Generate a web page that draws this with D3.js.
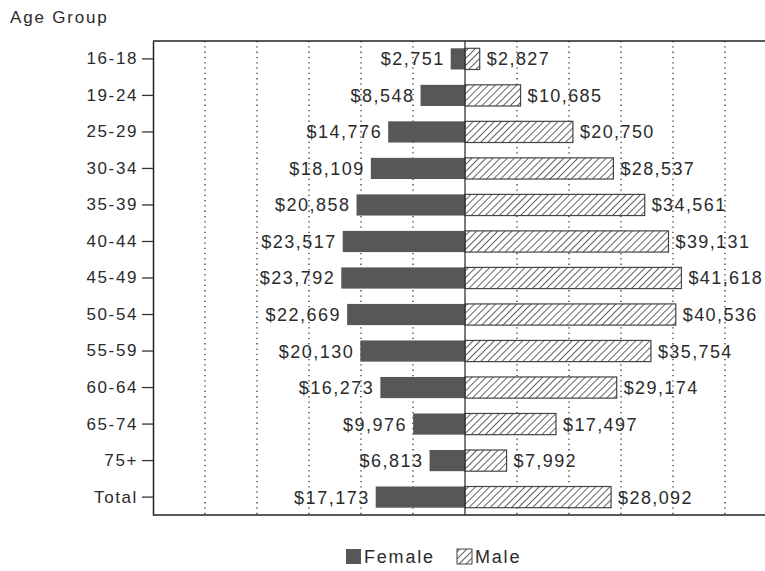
<!DOCTYPE html>
<html>
<head>
<meta charset="utf-8">
<script src="https://cdn.jsdelivr.net/npm/d3@7"></script>
<style>
  body { margin: 0; background: #fff; }
  text { font-family: "Liberation Sans", Arial, sans-serif; fill: #2b2b2b; }
</style>
</head>
<body>
<div id="chart"></div>
<script>
// age groups, top to bottom
const ageGroups = ['16-18','19-24','25-29','30-34','35-39','40-44','45-49','50-54','55-59','60-64','65-74','75+','Total'];
const female = [2751, 8548, 14776, 18109, 20858, 23517, 23792, 22669, 20130, 16273, 9976, 6813, 17173];
const male = [2827, 10685, 20750, 28537, 34561, 39131, 41618, 40536, 35754, 29174, 17497, 7992, 28092];
const gridValues = [-50000, -40000, -30000, -20000, -10000, 10000, 20000, 30000, 40000, 50000];
const legendItems = ['Female', 'Male'];

const W = 765, H = 571;
const svg = d3.select('#chart').append('svg').attr('width', W).attr('height', H);

const defs = svg.append('defs');
const pat = defs.append('pattern')
  .attr('id', 'hatch')
  .attr('patternUnits', 'userSpaceOnUse')
  .attr('width', 5).attr('height', 5)
  .attr('patternTransform', 'rotate(45)');
pat.append('rect').attr('width', 5).attr('height', 5).attr('fill', '#fff');
pat.append('line').attr('x1', 0).attr('y1', 0).attr('x2', 0).attr('y2', 5)
  .attr('stroke', '#3a3a3a').attr('stroke-width', 1.6);

const fontCss = '"Liberation Sans", Arial, sans-serif';

// plot frame
const plotLeft = 153, plotTop = 41, plotBottom = 515;
var x = d3.scaleLinear().domain([-60000, 60000]).range([plotLeft, 777]);
var y = d3.scaleBand().domain(ageGroups).range([plotTop, plotBottom]).paddingInner(0.42).paddingOuter(0.2);

// dotted grid
svg.append('g').selectAll('line').data(gridValues).enter().append('line')
  .attr('x1', d => x(d)).attr('x2', d => x(d))
  .attr('y1', plotTop).attr('y2', plotBottom)
  .attr('stroke', '#333').attr('stroke-width', 1.3)
  .attr('stroke-dasharray', '1.3,4');

// bars
const rows = ageGroups.map((g, i) => ({g: g, f: female[i], m: male[i]}));
svg.append('g').selectAll('rect').data(rows).enter().append('rect')
  .attr('x', d => x(-d.f)).attr('y', d => y(d.g))
  .attr('width', d => x(0) - x(-d.f)).attr('height', y.bandwidth())
  .attr('fill', '#575757');
svg.append('g').selectAll('rect').data(rows).enter().append('rect')
  .attr('x', x(0)).attr('y', d => y(d.g))
  .attr('width', d => x(d.m) - x(0)).attr('height', y.bandwidth())
  .attr('fill', 'url(#hatch)').attr('stroke', '#444').attr('stroke-width', 1.2);

const fmt = d3.format('$,');
svg.append('g').selectAll('text').data(rows).enter().append('text')
  .attr('x', d => x(-d.f) - 6).attr('y', d => y(d.g) + y.bandwidth() / 2)
  .attr('dy', '0.36em').attr('text-anchor', 'end')
  .style('font-size', '18px').style('letter-spacing', '1.5px')
  .text(d => fmt(d.f));
svg.append('g').selectAll('text').data(rows).enter().append('text')
  .attr('x', d => x(d.m) + 7).attr('y', d => y(d.g) + y.bandwidth() / 2)
  .attr('dy', '0.36em')
  .style('font-size', '18px').style('letter-spacing', '1.4px')
  .text(d => fmt(d.m));

// center line
svg.append('line').attr('x1', x(0)).attr('x2', x(0)).attr('y1', plotTop).attr('y2', plotBottom)
  .attr('stroke', '#333').attr('stroke-width', 1.3);

// frame lines
svg.append('line').attr('x1', plotLeft).attr('x2', W).attr('y1', plotTop).attr('y2', plotTop)
  .attr('stroke', '#222').attr('stroke-width', 1.5);
svg.append('line').attr('x1', plotLeft).attr('x2', W).attr('y1', plotBottom).attr('y2', plotBottom)
  .attr('stroke', '#222').attr('stroke-width', 1.5);

// left axis
const yAxis = svg.append('g').attr('transform', 'translate(' + plotLeft + ',0)')
  .call(d3.axisLeft(y).tickSizeInner(11).tickSizeOuter(0).tickPadding(4));
yAxis.select('.domain').attr('stroke', '#222').attr('stroke-width', 1.5);
yAxis.selectAll('.tick line').attr('stroke', '#333').attr('stroke-width', 1.3);
yAxis.selectAll('.tick text')
  .style('font-size', '17px').style('letter-spacing', '1.6px')
  .style('font-family', fontCss).attr('fill', '#2b2b2b');

svg.append('text').attr('x', 10).attr('y', 23)
  .style('font-size', '17px').style('letter-spacing', '1.8px')
  .text('Age Group');

// legend
const legend = svg.append('g').attr('transform', 'translate(346,549)');
const lx = [0, 111];
legend.selectAll('rect').data(legendItems).enter().append('rect')
  .attr('x', (d, i) => lx[i]).attr('y', 0).attr('width', 15).attr('height', 15)
  .attr('fill', (d, i) => i == 0 ? '#575757' : 'url(#hatch)')
  .attr('stroke', (d, i) => i == 0 ? 'none' : '#444');
legend.selectAll('text').data(legendItems).enter().append('text')
  .attr('x', (d, i) => lx[i] + 18).attr('y', 14)
  .style('font-size', '18px').style('letter-spacing', '1.8px')
  .text(d => d);
</script>
</body>
</html>
